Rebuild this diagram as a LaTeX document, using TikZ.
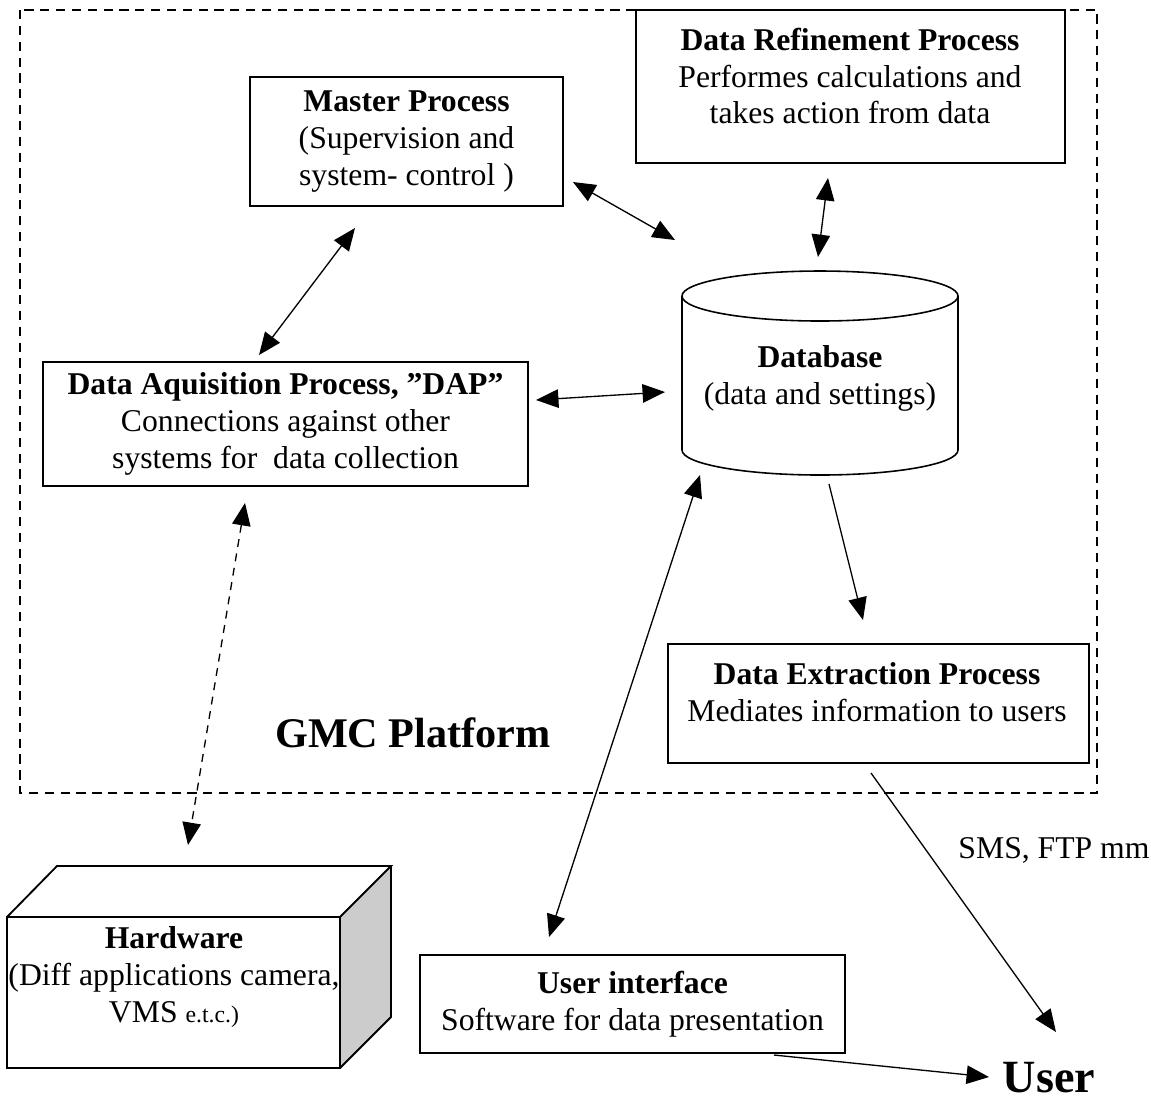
\documentclass[tikz,border=0pt]{standalone}
\usepackage{fontspec}
\setmainfont{Liberation Serif}
\usetikzlibrary{arrows.meta}

\tikzset{
  procbox/.style={draw, line width=0.7pt, fill=white, inner sep=0pt},
  procline/.style={line width=0.7pt, line join=miter},
  boxdim/.style 2 args={minimum width=#1*0.3788pt, minimum height=#2*0.3788pt},
  boxtext/.style={align=center, font=\fontsize{12}{14}\selectfont},
  frame/.style={line width=0.7pt, dash pattern=on 3.5pt off 2.5pt},
  biarrow/.style={{Triangle[length=8.5pt,width=7pt]}-{Triangle[length=8.5pt,width=7pt]}, line width=0.5pt},
  onearrow/.style={-{Triangle[length=8.5pt,width=7pt]}, line width=0.5pt},
  hwarrow/.style={biarrow, dash pattern=on 3pt off 2.5pt},
}

\begin{document}
\begin{tikzpicture}[x=0.3788pt, y=-0.3788pt]
    \useasboundingbox (0,0) rectangle (1151,1099);

    % GMC platform border
    \draw[frame] (20,10) rectangle (1097,793);

    % === Processes ===
    \node[procbox, boxdim={313}{129}, boxtext] (master) at (406.5,141.5)
        {\textbf{Master Process}\\(Supervision and\\system- control )};

    \node[procbox, boxdim={429}{153}] (refine) at (850.5,86.5) {};
    \node[boxtext] (refine-txt) at (850,76)
        {\textbf{Data Refinement Process}\\Performes calculations and\\takes action from data};

    \node[procbox, boxdim={485}{124}, boxtext] (dap) at (285.5,424)
        {\textbf{Data Aquisition Process, ”DAP”}\\Connections against other\\systems for\ \ data collection};

    \node[procbox, boxdim={421}{119}] (extract) at (878.5,703.5) {};
    \node[boxtext] (extract-txt) at (877,692.5)
        {\textbf{Data Extraction Process}\\Mediates information to users};

    \node[procbox, boxdim={425}{98}, boxtext] (ui) at (632.5,1004)
        {\textbf{User interface}\\Software for data presentation};

    % Database cylinder
    \draw[procline, line width=0.6pt, fill=white] (682,296) -- (682,450)
        arc[start angle=180, end angle=0, x radius=138, y radius=25] -- (958,296);
    \draw[procline, line width=0.6pt] (820,296) ellipse [x radius=138, y radius=25];
    \node[boxtext] (db) at (820,378.5) {\textbf{Database}\\(data and settings)};

    % Hardware block
    \fill[gray!40] (340,917) -- (391,866) -- (391,1017) -- (340,1068) -- cycle;
    \draw[procline] (7,917) -- (57,866) -- (391,866) -- (340,917);
    \draw[procline] (391,866) -- (391,1017) -- (340,1068);
    \node[procbox, boxdim={333}{151}] (hw) at (173.5,992.5) {};
    \node[boxtext] (hw-txt) at (174,977)
        {\textbf{Hardware}\\(Diff applications camera,\\VMS {\fontsize{9}{10}\selectfont e.t.c.)}};

    % Labels
    \node[font=\fontsize{16}{18}\selectfont\bfseries] (gmc) at (413,733) {GMC Platform};
    \node[boxtext] (sms) at (1054,850) {SMS, FTP mm};
    \node[font=\fontsize{17.5}{20}\selectfont\bfseries] (user) at (1049,1078) {User};

    % Arrow ends
    \coordinate (mp-db) at (573,182);
    \coordinate (db-mp) at (675,240);
    \coordinate (mp-dap) at (355,228);
    \coordinate (dap-mp) at (259,355);
    \coordinate (dap-db) at (536,400);
    \coordinate (db-dap) at (665,392);
    \coordinate (dr-db) at (828,178);
    \coordinate (db-dr) at (818,257);
    \coordinate (dap-hw) at (245,503);
    \coordinate (hw-dap) at (188,845);
    \coordinate (db-de) at (829,484);
    \coordinate (de-db) at (863,620);
    \coordinate (de-user) at (871,773);
    \coordinate (user-de) at (1056,1032);
    \coordinate (ui-user) at (774,1055);
    \coordinate (user-ui) at (989,1077);
    \coordinate (ui-db) at (549,937);
    \coordinate (db-ui) at (700,475);

    % Connections
    \draw[biarrow] (mp-db) -- (db-mp);
    \draw[biarrow] (mp-dap) -- (dap-mp);
    \draw[biarrow] (dap-db) -- (db-dap);
    \draw[biarrow] (dr-db) -- (db-dr);
    \draw[hwarrow] (dap-hw) -- (hw-dap);
    \draw[onearrow] (db-de) -- (de-db);
    \draw[onearrow] (de-user) -- (user-de);
    \draw[onearrow] (ui-user) -- (user-ui);
    \draw[biarrow] (ui-db) -- (db-ui);
\end{tikzpicture}
\end{document}
